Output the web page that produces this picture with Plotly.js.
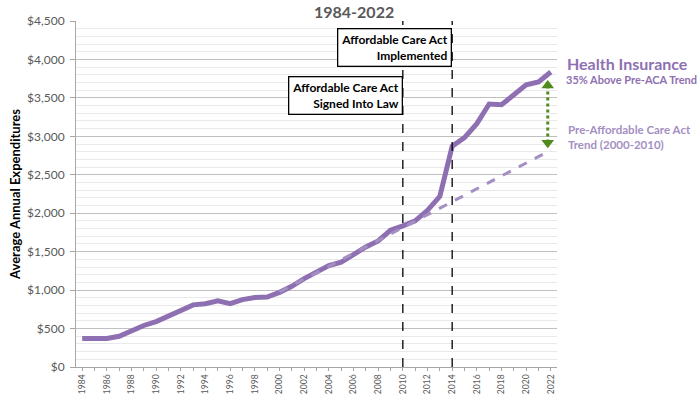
<!DOCTYPE html>
<html>
<head>
<meta charset="utf-8">
<script src="https://cdn.plot.ly/plotly-3.0.1.min.js"></script>
<style>html,body{margin:0;padding:0;background:#fff;}#chart{width:700px;height:394px;}</style>
</head>
<body>
<div id="chart"></div>
<script>
// Data
const years = [1984,1985,1986,1987,1988,1989,1990,1991,1992,1993,1994,1995,1996,1997,1998,1999,2000,2001,2002,2003,2004,2005,2006,2007,2008,2009,2010,2011,2012,2013,2014,2015,2016,2017,2018,2019,2020,2021,2022];
const healthInsurance = [370,370,372,400,477,540,590,660,737,808,822,862,824,876,905,910,971,1050,1150,1236,1318,1362,1470,1561,1640,1778,1835,1900,2038,2220,2870,2983,3165,3420,3410,3533,3670,3707,3837];
const trendYears = [2000, 2022];
const trendValues = [975, 2820];
const actYears = [2010, 2014];
const arrowYears = [2021.75, 2021.75];
const arrowValues = [3660, 2915];
const yTickVals = [0,500,1000,1500,2000,2500,3000,3500,4000,4500];
const yTickText = ['$0','$500','$1,000','$1,500','$2,000','$2,500','$3,000','$3,500','$4,000','$4,500'];
const xTickVals = [1984,1986,1988,1990,1992,1994,1996,1998,2000,2002,2004,2006,2008,2010,2012,2014,2016,2018,2020,2022];

const FONT = 'Lato, "Open Sans", sans-serif';
const purple = '#8e70b2';
const lightPurple = '#a48fc3';

const traces = [
  {
    x: years, y: healthInsurance, type: 'scatter', mode: 'lines',
    line: {color: purple, width: 5}, hoverinfo: 'skip', showlegend: false
  },
  {
    x: trendYears, y: trendValues, type: 'scatter', mode: 'lines',
    line: {color: lightPurple, width: 3, dash: 'dash'}, hoverinfo: 'skip', showlegend: false
  },
  {
    x: arrowYears, y: arrowValues, type: 'scatter', mode: 'lines+markers',
    line: {color: '#4f8a1c', width: 3, dash: 'dot'},
    marker: {symbol: ['triangle-up','triangle-down'], size: 11, color: '#4f8a1c'},
    hoverinfo: 'skip', showlegend: false
  }
];

const layout = {
  width: 700, height: 394,
  margin: {l: 76, r: 143, t: 21, b: 27, pad: 0},
  paper_bgcolor: '#fff', plot_bgcolor: '#fff',
  font: {family: FONT, color: '#595959'},
  showlegend: false,
  xaxis: {
    range: [1983.5, 2022.5],
    tickvals: xTickVals, ticktext: xTickVals.map(String),
    tickangle: -90, tickfont: {size: 8.5, color: '#595959', family: FONT},
    ticks: 'outside', ticklen: 3, tickcolor: '#a6a6a6',
    showgrid: false, zeroline: false,
    showline: true, linecolor: '#a6a6a6', linewidth: 1,
    minor: {dtick: 1, tick0: 1984, ticks: 'outside', ticklen: 3, tickcolor: '#a6a6a6', showgrid: false}
  },
  yaxis: {
    range: [0, 4500],
    tickvals: yTickVals, ticktext: yTickText,
    tickfont: {size: 12, color: '#595959', family: FONT},
    ticks: 'outside', ticklen: 5, tickcolor: '#a6a6a6', ticklabelstandoff: 3,
    showgrid: true, gridcolor: '#bfbfbf', gridwidth: 1,
    zeroline: false, showline: true, linecolor: '#a6a6a6', linewidth: 1,
    minor: {dtick: 100, tick0: 0, showgrid: true, gridcolor: '#e9e9e9', gridwidth: 1, ticks: ''},
    title: {text: '<b>Average Annual Expenditures</b>', font: {size: 13, color: '#000', family: FONT}, standoff: 3}
  },
  shapes: actYears.map(yr => ({
    type: 'line', xref: 'x', yref: 'paper', x0: yr, x1: yr, y0: 0, y1: 1,
    line: {color: '#000', width: 1.3, dash: 'dash'}, layer: 'above'
  })),
  annotations: [
    {xref: 'paper', yref: 'paper', x: 0.577, y: 1.028, xanchor: 'center', yanchor: 'middle',
     text: '<b>1984-2022</b>', showarrow: false, font: {size: 16, color: '#595959', family: FONT}},
    {xref: 'x', yref: 'y', x: actYears[1], y: 4405, xanchor: 'right', yanchor: 'top',
     text: '<b>Affordable Care Act<br>Implemented</b>', align: 'right', showarrow: false,
     bgcolor: '#fff', bordercolor: '#000', borderwidth: 1.3, borderpad: 3,
     font: {size: 12, color: '#000', family: FONT}},
    {xref: 'x', yref: 'y', x: actYears[0], y: 3785, xanchor: 'right', yanchor: 'top',
     text: '<b>Affordable Care Act<br>Signed Into Law</b>', align: 'right', showarrow: false,
     bgcolor: '#fff', bordercolor: '#000', borderwidth: 1.3, borderpad: 3,
     font: {size: 12, color: '#000', family: FONT}},
    {xref: 'paper', yref: 'paper', x: 1.017, y: 0.877, xanchor: 'left', yanchor: 'middle',
     text: '<b>Health Insurance</b>', showarrow: false, font: {size: 16, color: '#8e70b2', family: FONT}},
    {xref: 'paper', yref: 'paper', x: 1.015, y: 0.83, xanchor: 'left', yanchor: 'middle',
     text: '<b>35% Above Pre-ACA Trend</b>', showarrow: false, font: {size: 11, color: '#8e70b2', family: FONT}},
    {xref: 'paper', yref: 'paper', x: 1.019, y: 0.665, xanchor: 'left', yanchor: 'middle',
     text: '<b>Pre-Affordable Care Act<br>Trend (2000-2010)</b>', align: 'left', showarrow: false,
     font: {size: 11.5, color: '#a48fc3', family: FONT}}
  ]
};

Plotly.newPlot('chart', traces, layout, {staticPlot: true, displayModeBar: false});
</script>
</body>
</html>
